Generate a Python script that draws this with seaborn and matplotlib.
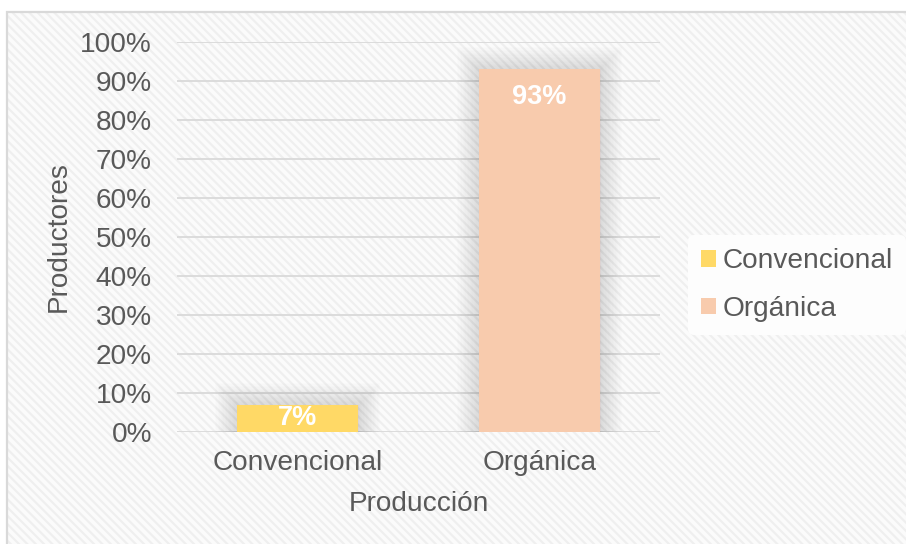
import matplotlib
matplotlib.use("Agg")
import matplotlib.pyplot as plt
import matplotlib.patheffects as pe
from matplotlib.patches import Rectangle
from matplotlib.ticker import FuncFormatter
import seaborn as sns
import pandas as pd

# Data
categories = ["Convencional", "Orgánica"]
percentages = [7, 93]
bar_colors = ["#FFD966", "#F8CBAD"]
y_ticks = [0, 10, 20, 30, 40, 50, 60, 70, 80, 90, 100]

sns.set_theme(style="white")
plt.rcParams["font.family"] = ["Liberation Sans", "DejaVu Sans"]
plt.rcParams["hatch.linewidth"] = 1.6

df = pd.DataFrame({"Producción": categories, "Productores": percentages})

fig = plt.figure(figsize=(9.06, 5.44), dpi=100, facecolor="white")

# Chart area: light diagonal texture with a thin grey frame
W, H = 906, 544
x0, y0 = 7 / W, 12 / H
bg = Rectangle((x0, 0), 1 - x0 + 0.01, 1 - y0, transform=fig.transFigure,
               facecolor="#fbfbfb", edgecolor="#efefef", hatch="\\\\\\\\",
               linewidth=0, zorder=-10)
fig.patches.append(bg)
frame = Rectangle((x0, -0.01), 1 - x0 + 0.02, 1 - y0 + 0.01, transform=fig.transFigure,
                  facecolor="none", edgecolor="#d9d9d9", linewidth=1.6, zorder=-9)
fig.patches.append(frame)

ax = fig.add_axes([177 / W, 1 - 432 / H, 483 / W, 390 / H])
ax.set_facecolor("none")

sns.barplot(data=df, x="Producción", y="Productores", hue="Producción",
            palette=bar_colors, width=0.5, saturation=1, legend=True, ax=ax,
            linewidth=0)

# Soft glow around the bars
glow = [pe.Stroke(linewidth=w, foreground="black", alpha=0.009) for w in range(32, 0, -2)]
for patch in ax.patches:
    patch.set_path_effects(glow + [pe.Normal()])
    patch.set_zorder(3)

ax.set_ylim(0, 100)
ax.set_xlim(-0.5, 1.5)
ax.set_yticks(y_ticks)
ax.yaxis.set_major_formatter(FuncFormatter(lambda v, _: f"{int(v)}%"))
ax.grid(axis="y", color="#d9d9d9", linewidth=1.3)
ax.set_axisbelow(True)
for s in ax.spines.values():
    s.set_visible(False)

fs = 20.2
ax.tick_params(axis="y", length=0, pad=18, labelsize=fs, labelcolor="#595959")
ax.tick_params(axis="x", length=0, pad=13, labelsize=fs, labelcolor="#595959")

ax.set_ylabel("Productores", fontsize=fs, color="#595959")
ax.yaxis.set_label_coords(-0.217, 0.5)
ax.set_xlabel("Producción", fontsize=fs, color="#595959", va="center")
ax.xaxis.set_label_coords(0.5, -0.185)

# Value labels inside the top of each bar
for i, v in enumerate(percentages):
    ax.text(i, max(v - 7, v / 2), f"{v}%", ha="center", va="center",
            color="white", fontsize=19.5, fontweight="bold", zorder=5)

leg = ax.legend(loc="center left", bbox_to_anchor=(688 / W, 1 - 285 / H),
                bbox_transform=fig.transFigure, frameon=True, fontsize=fs,
                handlelength=0.55, handleheight=0.55, handletextpad=0.25,
                labelspacing=0.78, borderpad=0.45, borderaxespad=0)
leg.get_frame().set_facecolor("#fdfdfd")
leg.get_frame().set_alpha(1)
leg.get_frame().set_linewidth(0)
for h in leg.legend_handles:
    h.set_path_effects([])
for t in leg.get_texts():
    t.set_color("#595959")

fig.savefig("out.png", dpi=100, facecolor="white")
